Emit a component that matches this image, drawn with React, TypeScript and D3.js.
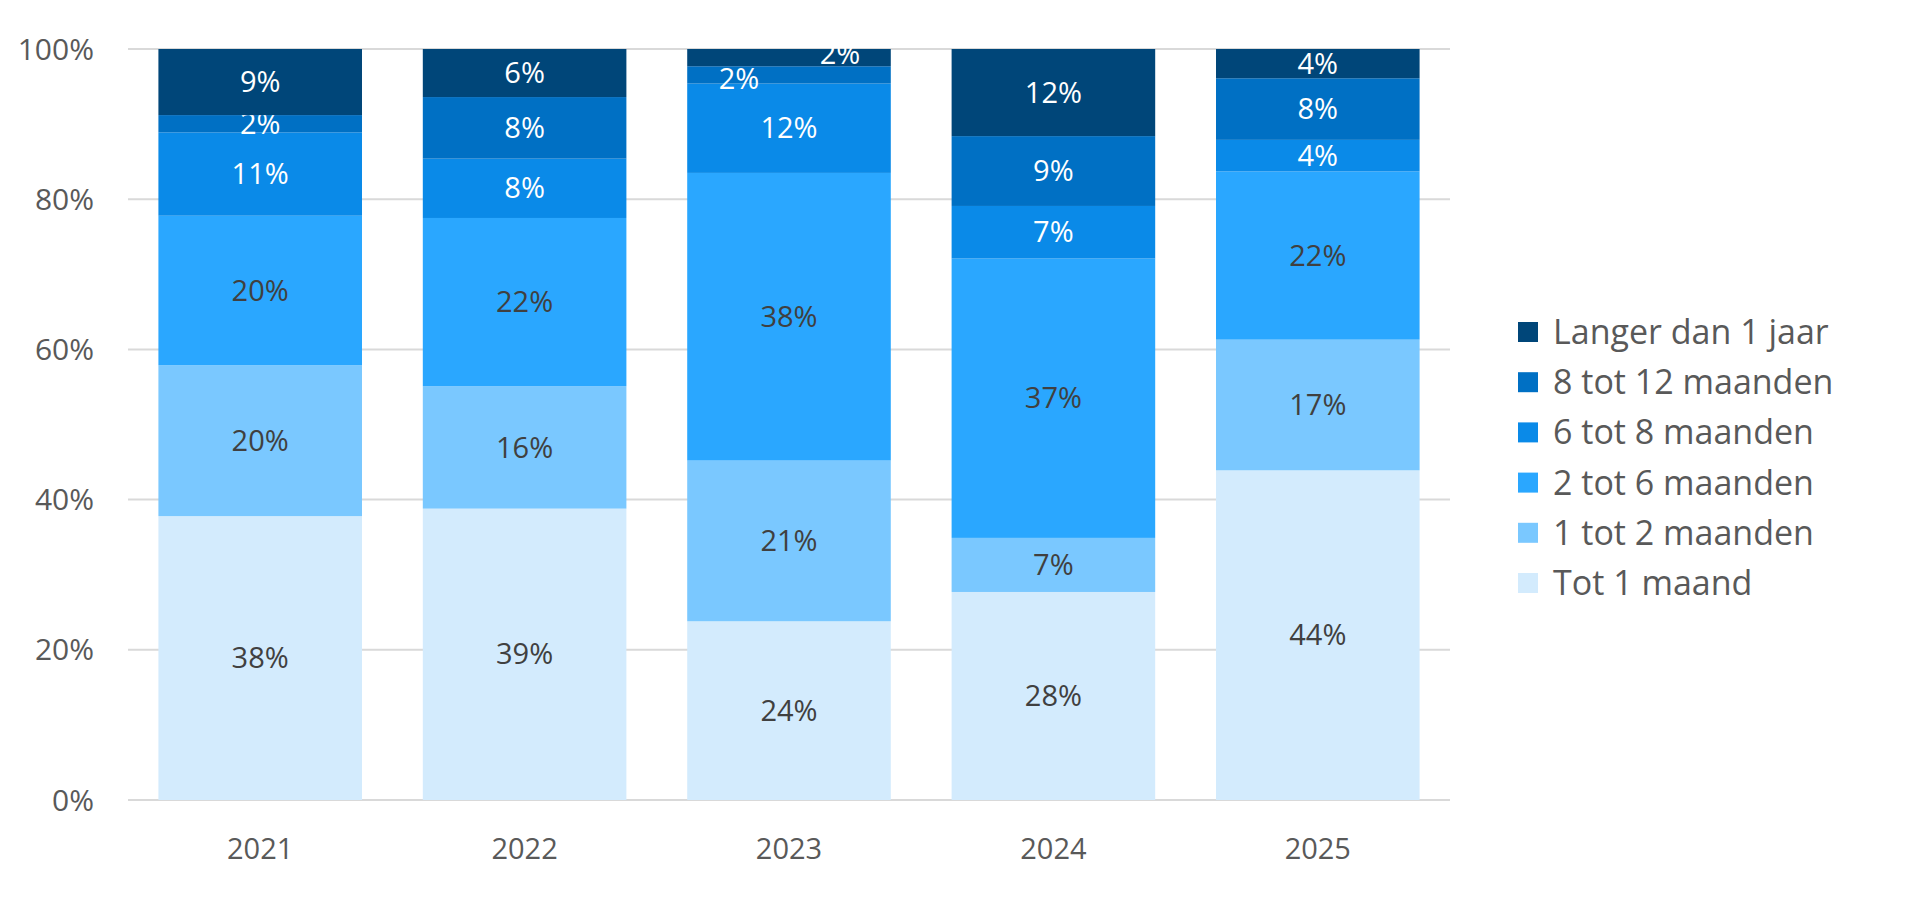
import React from "react";
import * as d3 from "d3";

const years = ["2021", "2022", "2023", "2024", "2025"];
const seriesNames = ["Tot 1 maand", "1 tot 2 maanden", "2 tot 6 maanden", "6 tot 8 maanden", "8 tot 12 maanden", "Langer dan 1 jaar"];
const tot1 = [37.8, 38.8, 23.8, 27.7, 43.9];
const tot2 = [20.1, 16.3, 21.4, 7.2, 17.4];
const tot6 = [19.9, 22.4, 38.3, 37.2, 22.4];
const tot8 = [11.1, 7.9, 11.9, 7.0, 4.2];
const tot12 = [2.3, 8.2, 2.3, 9.3, 8.2];
const langer = [8.8, 6.4, 2.3, 11.6, 3.9];
const yTicks = [0, 20, 40, 60, 80, 100];
const colors = ["#D3EBFD", "#7AC8FF", "#2AA7FF", "#0A8AE8", "#0070C4", "#004679"];
const labelColors = ["#404040", "#404040", "#404040", "#ffffff", "#ffffff", "#ffffff"];

export default function App() {
  const W = 1920, H = 908;
  const left = 128, right = 1450, top = 49, bottom = 800;
  const all = [tot1, tot2, tot6, tot8, tot12, langer];
  const rows = years.map((y, i) => {
    const r: any = { year: y };
    seriesNames.forEach((s, k) => (r[s] = all[k][i]));
    return r;
  });
  const stack = d3.stack().keys(seriesNames)(rows);
  const x = d3.scaleBand().domain(years).range([left, right]).paddingInner(0.23).paddingOuter(0.115);
  const y = d3.scaleLinear().domain([0, 100]).range([bottom, top]);
  const font = "'Open Sans', sans-serif";
  return (
    <svg width={W} height={H} style={{ display: "block", margin: "-8px", background: "#fff" }}>
      {yTicks.map((t) => (
        <g key={t}>
          <line x1={left} x2={right} y1={y(t)} y2={y(t)} stroke="#d9d9d9" strokeWidth={2} />
          <text x={94} y={y(t)} dy="0.35em" textAnchor="end" fontFamily={font} fontSize={30} fill="#595959">{t}%</text>
        </g>
      ))}
      {stack.map((s, k) => (
        <g key={k}>
          {s.map((d, i) => {
            const x0 = x(years[i])!;
            const y0 = y(d[1]), y1 = y(d[0]);
            const v = d[1] - d[0];
            const above = k < all.length - 1 ? all[k + 1][i] : 99;
            const below = k > 0 ? all[k - 1][i] : 99;
            let dx = 0, dyy = 0;
            if (v < 3 && above < 3) { dx = -50; dyy = 4; }
            else if (v < 3 && below < 3) { dx = 51; dyy = -4; }
            return (
              <g key={i}>
                <rect x={x0} y={y0} width={x.bandwidth()} height={y1 - y0} fill={colors[k]} />
                <text x={x0 + x.bandwidth() / 2 + dx} y={(y0 + y1) / 2 + dyy} dy="0.35em" textAnchor="middle" fontFamily={font} fontSize={29} fill={labelColors[k]}>
                  {Math.round(v)}%
                </text>
              </g>
            );
          })}
        </g>
      ))}
      {years.map((yr) => (
        <text key={yr} x={x(yr)! + x.bandwidth() / 2} y={849} dy="0.35em" textAnchor="middle" fontFamily={font} fontSize={29} fill="#595959">{yr}</text>
      ))}
      {seriesNames.slice().reverse().map((s, j) => {
        const k = seriesNames.length - 1 - j;
        const cy = 332 + j * 50.2;
        return (
          <g key={s}>
            <rect x={1518} y={cy - 10} width={20} height={20} fill={colors[k]} />
            <text x={1553} y={cy} dy="0.35em" fontFamily={font} fontSize={34} fill="#595959">{s}</text>
          </g>
        );
      })}
    </svg>
  );
}
